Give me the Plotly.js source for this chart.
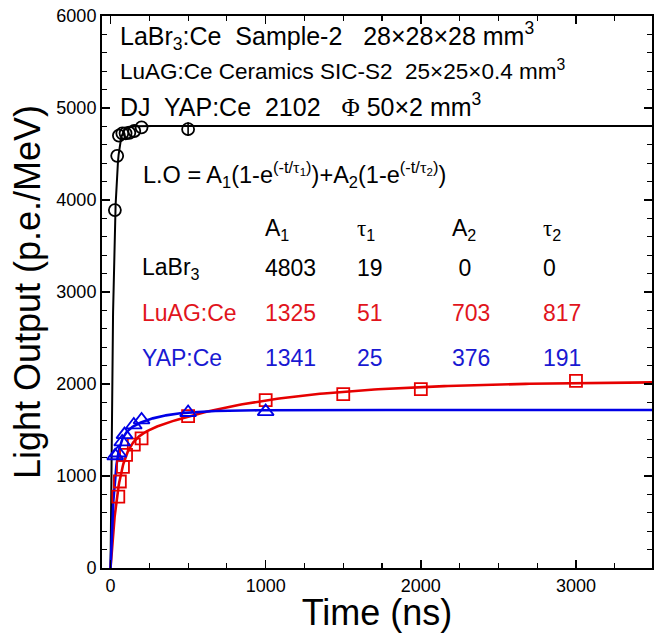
<!DOCTYPE html>
<html>
<head>
<meta charset="utf-8">
<script src="https://cdn.plot.ly/plotly-3.0.1.min.js"></script>
<style>html,body{margin:0;padding:0;background:#fff;}#chart{width:658px;height:633px;}</style>
</head>
<body>
<div id="chart"></div>
<script>
// ---- data ----
const labrT = [28, 43, 54, 76, 97, 121, 153, 200, 500];
const labrL = [3890, 4480, 4700, 4725, 4725, 4731, 4750, 4790, 4770];
const labrErr = [0, 0, 0, 0, 0, 0, 0, 0, 75];

const luagT = [50, 60, 80, 100, 150, 200, 500, 1000, 1500, 2000, 3000];
const luagL = [775, 940, 1100, 1230, 1340, 1410, 1650, 1825, 1890, 1945, 2035];

const yapT = [30, 50, 75, 90, 150, 200, 500, 1000];
const yapL = [1220, 1250, 1370, 1450, 1555, 1610, 1690, 1700];

// fit parameters (table in the chart)
const rowNames = ['LaBr<sub>3</sub>', 'LuAG:Ce', 'YAP:Ce'];
const A1 = [4803, 1325, 1341];
const tau1 = [19, 51, 25];
const A2 = [0, 703, 376];
const tau2 = [0, 817, 191];
const a2Labels = [' 0', '703', '376'];

const xTicks = [0, 1000, 2000, 3000];
const yTicks = [0, 1000, 2000, 3000, 4000, 5000, 6000];

const RED = 'rgb(230,0,0)';
const BLUE = 'rgb(0,0,230)';
const rowColors = ['#000000', 'rgb(225,20,28)', 'rgb(25,25,210)'];
const lineColors = ['#000000', RED, BLUE];

// fit curve from the chart's own formula & parameters
function fit(i) {
  const xs = [], ys = [];
  const pts = [];
  for (let t = 0; t < 40; t += 0.5) pts.push(t);
  for (let t = 40; t < 400; t += 4) pts.push(t);
  for (let t = 400; t <= 3500; t += 25) pts.push(t);
  pts.forEach(t => {
    let v = A1[i] * (1 - Math.exp(-t / tau1[i]));
    if (tau2[i] > 0) v += A2[i] * (1 - Math.exp(-t / tau2[i]));
    xs.push(t); ys.push(v);
  });
  return {xs, ys};
}

const traces = [];
[0, 1, 2].forEach(i => {
  const f = fit(i);
  traces.push({x: f.xs, y: f.ys, mode: 'lines', type: 'scatter',
    line: {color: lineColors[i], width: i === 0 ? 2 : 2.6}, hoverinfo: 'skip', showlegend: false});
});
traces.push({x: labrT, y: labrL, mode: 'markers', type: 'scatter', showlegend: false,
  marker: {symbol: 'circle-open', size: 12, color: '#000', line: {width: 1.8, color: '#000'}},
  error_y: {type: 'data', array: labrErr, visible: true, color: '#000', thickness: 1.6, width: 0}});
traces.push({x: luagT, y: luagL, mode: 'markers', type: 'scatter', showlegend: false,
  marker: {symbol: 'square-open', size: 12, color: RED, line: {width: 1.8, color: RED}}});
traces.push({x: yapT, y: yapL, mode: 'markers', type: 'scatter', showlegend: false,
  marker: {symbol: 'triangle-up-open', size: 14, color: BLUE, line: {width: 1.8, color: BLUE}}});

// plot area in pixels
const L = 102, R = 652, T = 16, B = 568;
const px = x => (x - L) / (R - L);
const py = y => (B - y) / (B - T);
const FONT = 'Arial';
const SER = 'font-family:Liberation Serif,Times New Roman,serif';

const ann = [];
function txt(text, x, y, size, color) {
  ann.push({text, xref: 'paper', yref: 'paper', x: px(x), y: py(y), xanchor: 'left', yanchor: 'middle',
    showarrow: false, font: {family: FONT, size, color: color || '#000'}});
}
txt('LaBr<sub>3</sub>:Ce  Sample-2   28×28×28 mm<sup>3</sup>', 118, 36, 25);
txt('LuAG:Ce Ceramics SIC-S2  25×25×0.4 mm<sup>3</sup>', 118, 70, 22.5);
txt('DJ  YAP:Ce  2102   <span style="' + SER + '">Φ</span> 50×2 mm<sup>3</sup>', 118, 105, 25);
txt('L.O = A<sub>1</sub>(1-e<sup>(-t/<span style="' + SER + '">τ</span><sub>1</sub>)</sup>)+A<sub>2</sub>(1-e<sup>(-t/<span style="' + SER + '">τ</span><sub>2</sub>)</sup>)', 141, 174, 23.5);

const colX = [140, 263, 355, 450, 541];
txt('A<sub>1</sub>', colX[1], 230, 23);
txt('<span style="' + SER + '">τ</span><sub>1</sub>', colX[2], 230, 23);
txt('A<sub>2</sub>', colX[3], 230, 23);
txt('<span style="' + SER + '">τ</span><sub>2</sub>', colX[4], 230, 23);
const rowY = [268, 313, 358];
[0, 1, 2].forEach(i => {
  const c = rowColors[i];
  txt(rowNames[i], colX[0], rowY[i], 23, c);
  txt(String(A1[i]), colX[1], rowY[i], 23, c);
  txt(String(tau1[i]), colX[2], rowY[i], 23, c);
  txt(a2Labels[i], colX[3], rowY[i], 23, c);
  txt(String(tau2[i]), colX[4], rowY[i], 23, c);
});

const axisCommon = {
  showgrid: false, zeroline: false, showline: true, linecolor: '#000', linewidth: 2,
  mirror: 'ticks', ticks: 'inside', ticklen: 8, tickwidth: 1.5, tickcolor: '#000',
  tickfont: {family: FONT, size: 18, color: '#000'},
};

const layout = {
  width: 658, height: 633,
  margin: {l: L, r: 658 - R, t: T, b: 633 - B},
  paper_bgcolor: '#fff', plot_bgcolor: '#fff',
  showlegend: false,
  xaxis: Object.assign({}, axisCommon, {
    range: [-55, 3490], tickvals: xTicks, ticktext: xTicks.map(String),
    minor: {dtick: 250, tick0: 0, ticks: 'inside', ticklen: 5, tickwidth: 1.2, tickcolor: '#000'},
    title: {text: 'Time (ns)', font: {family: FONT, size: 36, color: '#000'}, standoff: 1},
  }),
  yaxis: Object.assign({}, axisCommon, {
    range: [0, 6000], tickvals: yTicks, ticktext: yTicks.map(String),
    minor: {dtick: 200, tick0: 0, ticks: 'inside', ticklen: 5, tickwidth: 1.2, tickcolor: '#000'},
    title: {text: 'Light Output (p.e./MeV)', font: {family: FONT, size: 36, color: '#000'}, standoff: 5},
  }),
  annotations: ann,
};

Plotly.newPlot('chart', traces, layout, {displayModeBar: false, staticPlot: true});
</script>
</body>
</html>
